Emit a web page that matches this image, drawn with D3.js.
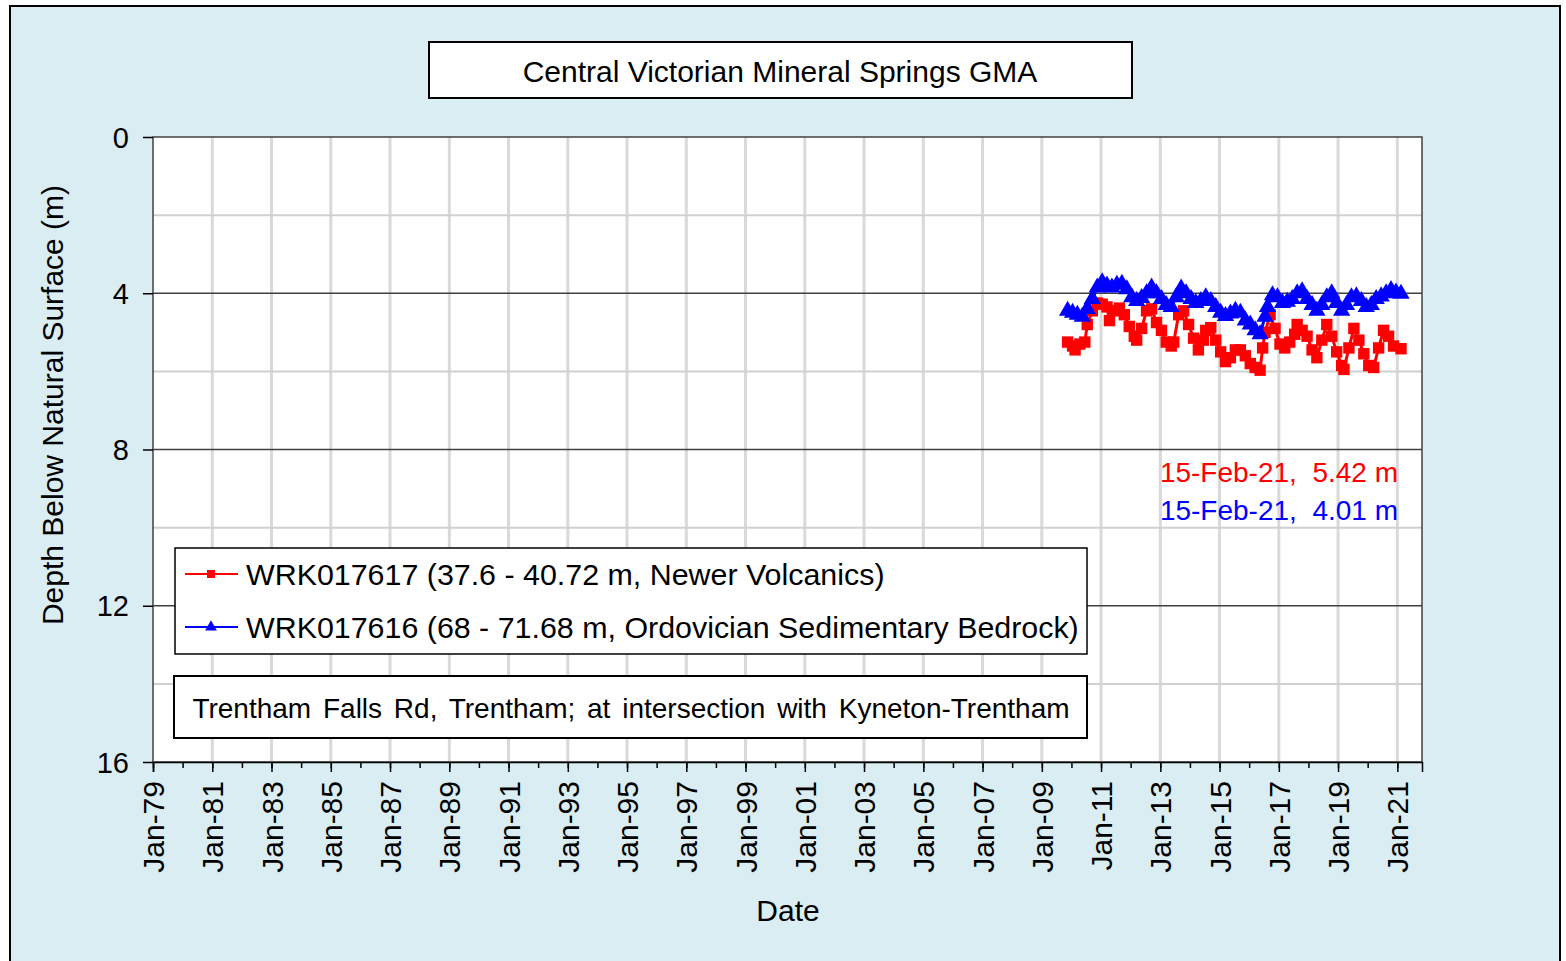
<!DOCTYPE html>
<html>
<head>
<meta charset="utf-8">
<script src="https://cdn.jsdelivr.net/npm/d3@7"></script>
<style>
  body { margin: 0; background: #ffffff; }
  text { font-family: "Liberation Sans", Arial, sans-serif; fill: #000; }
</style>
</head>
<body>
<script>
// bore WRK017617 (red, squares)
var redDates = ["2009-11-15","2010-01-15","2010-02-15","2010-04-15","2010-06-15","2010-07-15","2010-09-15","2010-11-15",
  "2011-01-15","2011-03-15","2011-04-15","2011-06-15","2011-08-15","2011-10-15","2011-12-15",
  "2012-02-15","2012-03-15","2012-05-15","2012-07-15","2012-09-15","2012-11-15",
  "2013-01-15","2013-03-15","2013-05-15","2013-06-15","2013-08-15","2013-10-15","2013-12-15",
  "2014-02-15","2014-04-15","2014-06-15","2014-07-15","2014-09-15","2014-11-15",
  "2015-01-15","2015-03-15","2015-05-15","2015-07-15","2015-09-15","2015-11-15",
  "2016-01-15","2016-03-15","2016-05-15","2016-06-15","2016-07-15","2016-09-15","2016-11-15",
  "2017-01-15","2017-03-15","2017-05-15","2017-07-15","2017-08-15","2017-10-15","2017-12-15",
  "2018-02-15","2018-04-15","2018-06-15","2018-08-15","2018-10-15","2018-12-15",
  "2019-02-15","2019-03-15","2019-05-15","2019-07-15","2019-09-15","2019-11-15",
  "2020-01-15","2020-03-15","2020-05-15","2020-07-15","2020-09-15","2020-11-15","2021-02-15"];
var redDepth = [5.25,5.35,5.45,5.30,5.25,4.80,4.45,4.25,
  4.28,4.35,4.70,4.45,4.38,4.55,4.85,
  5.10,5.20,4.90,4.45,4.40,4.75,
  4.95,5.25,5.35,5.25,4.55,4.45,4.80,
  5.15,5.45,5.20,4.95,4.88,5.20,
  5.50,5.75,5.65,5.45,5.45,5.60,
  5.80,5.90,5.97,5.40,5.00,4.55,4.90,
  5.30,5.40,5.25,5.05,4.80,4.95,5.10,
  5.45,5.65,5.20,4.80,5.10,5.50,
  5.85,5.95,5.40,4.90,5.20,5.55,
  5.85,5.90,5.40,4.95,5.10,5.35,5.42];

// bore WRK017616 (blue, triangles)
var blueDates = ["2009-11-15","2010-01-15","2010-03-15","2010-05-15","2010-07-15","2010-09-15","2010-11-15",
  "2011-01-15","2011-03-15","2011-05-15","2011-07-15","2011-09-15","2011-11-15",
  "2012-01-15","2012-03-15","2012-05-15","2012-07-15","2012-09-15","2012-11-15",
  "2013-01-15","2013-03-15","2013-05-15","2013-07-15","2013-09-15","2013-11-15",
  "2014-01-15","2014-03-15","2014-05-15","2014-07-15","2014-09-15","2014-11-15",
  "2015-01-15","2015-03-15","2015-05-15","2015-07-15","2015-09-15","2015-11-15",
  "2016-01-15","2016-03-15","2016-05-15","2016-07-15","2016-08-15","2016-10-15","2016-12-15",
  "2017-02-15","2017-04-15","2017-06-15","2017-08-15","2017-10-15","2017-12-15",
  "2018-02-15","2018-04-15","2018-06-15","2018-08-15","2018-10-15","2018-12-15",
  "2019-02-15","2019-04-15","2019-06-15","2019-08-15","2019-10-15","2019-12-15",
  "2020-02-15","2020-04-15","2020-06-15","2020-08-15","2020-10-15","2020-12-15","2021-02-15"];
var blueDepth = [4.45,4.50,4.55,4.60,4.40,4.15,3.85,
  3.72,3.80,3.85,3.78,3.76,3.90,
  4.10,4.20,4.12,4.00,3.85,4.00,
  4.15,4.30,4.35,4.10,3.88,4.00,
  4.15,4.25,4.20,4.10,4.20,4.35,
  4.50,4.58,4.52,4.45,4.50,4.70,
  4.80,4.95,5.05,4.60,4.35,4.05,4.10,
  4.25,4.22,4.15,4.00,3.95,4.15,
  4.30,4.45,4.30,4.10,4.00,4.25,
  4.45,4.30,4.10,4.08,4.20,4.35,
  4.30,4.15,4.08,4.00,3.92,3.98,4.01];

var seriesNames = ["WRK017617 (37.6 - 40.72 m, Newer Volcanics)",
                   "WRK017616 (68 - 71.68 m, Ordovician Sedimentary Bedrock)"];
var seriesColors = ["#ff0000", "#0000ff"];
var lastLabels = ["15-Feb-21,  5.42 m", "15-Feb-21,  4.01 m"];
var yTicks = [0, 4, 8, 12, 16];
var chartTitle = "Central Victorian Mineral Springs GMA";
var siteText = "Trentham Falls Rd, Trentham; at intersection with Kyneton-Trentham";

var W = 1566, H = 961;
var margin = {top: 137, left: 153};
var width = 1422 - 153, height = 762 - 137;

var parseDate = d3.timeParse("%Y-%m-%d");
var red = redDates.map(function(d, i) { return {date: parseDate(d), v: redDepth[i]}; });
var blue = blueDates.map(function(d, i) { return {date: parseDate(d), v: blueDepth[i]}; });

var svg = d3.select("body").append("svg")
  .attr("width", W).attr("height", H);

// background + outer frame
svg.append("rect").attr("x", 0).attr("y", 0).attr("width", W).attr("height", H).attr("fill", "#ffffff");
svg.append("rect").attr("x", 10).attr("y", 6).attr("width", 1550).attr("height", H + 10)
  .attr("fill", "#daedf3").attr("stroke", "#000").attr("stroke-width", 2);

// title box
svg.append("rect").attr("x", 429).attr("y", 42).attr("width", 703).attr("height", 56)
  .attr("fill", "#fff").attr("stroke", "#000").attr("stroke-width", 2);
svg.append("text").attr("x", 780).attr("y", 82).attr("text-anchor", "middle")
  .style("font-size", "30px").text(chartTitle);

var x = d3.scaleTime()
  .domain([new Date(1979, 0, 1), new Date(2021, 10, 1)])
  .range([0, width]);
var y = d3.scaleLinear().domain([0, 16]).range([0, height]);

var g = svg.append("g").attr("transform", "translate(" + margin.left + "," + margin.top + ")");

g.append("rect").attr("width", width).attr("height", height).attr("fill", "#fff");

// vertical grid every 2 years (odd years, Jan-79 .. Jan-21)
var majorYears = d3.timeYear.range(new Date(1979, 0, 1), new Date(2021, 1, 1), 2);
g.append("g").selectAll("line").data(majorYears.slice(1)).enter().append("line")
  .attr("x1", function(d) { return x(d); }).attr("x2", function(d) { return x(d); })
  .attr("y1", 0).attr("y2", height)
  .attr("stroke", "#d9d9d9").attr("stroke-width", 3);

// horizontal grid
g.append("g").selectAll("line").data([2, 6, 10, 14]).enter().append("line")
  .attr("x1", 0).attr("x2", width)
  .attr("y1", function(d) { return y(d); }).attr("y2", function(d) { return y(d); })
  .attr("stroke", "#d0d0d0").attr("stroke-width", 2);
g.append("g").selectAll("line").data([4, 8, 12]).enter().append("line")
  .attr("x1", 0).attr("x2", width)
  .attr("y1", function(d) { return y(d); }).attr("y2", function(d) { return y(d); })
  .attr("stroke", "#404040").attr("stroke-width", 1.5);

g.append("rect").attr("width", width).attr("height", height)
  .attr("fill", "none").attr("stroke", "#404040").attr("stroke-width", 1.5);

// y axis
var yAxis = g.append("g")
  .call(d3.axisLeft(y).tickValues(yTicks).tickSize(10).tickPadding(14).tickFormat(d3.format("d")));
yAxis.select(".domain").remove();
yAxis.selectAll(".tick line").attr("stroke", "#000").attr("stroke-width", 1.5);
yAxis.selectAll("text").style("font-size", "29px").attr("fill", "#000").attr("dy", "0.35em");

// x axis: minor ticks every year, major every 2
var xMinor = g.append("g").attr("transform", "translate(0," + height + ")")
  .call(d3.axisBottom(x).ticks(d3.timeYear.every(1)).tickSize(6).tickFormat(""));
xMinor.select(".domain").remove();
xMinor.selectAll(".tick line").attr("stroke", "#000").attr("stroke-width", 1.5);

var xAxis = g.append("g").attr("transform", "translate(0," + height + ")")
  .call(d3.axisBottom(x).tickValues(majorYears).tickSize(10).tickFormat(d3.timeFormat("%b-%y")));
xAxis.select(".domain").attr("stroke", "#000").attr("stroke-width", 1.5);
xAxis.selectAll(".tick line").attr("stroke", "#000").attr("stroke-width", 1.5);
xAxis.selectAll("text")
  .style("font-size", "30px").attr("fill", "#000")
  .attr("text-anchor", "end")
  .attr("transform", "rotate(-90)")
  .attr("x", -19).attr("y", 0).attr("dy", "0.35em");

// axis titles
svg.append("text").attr("transform", "translate(63,405) rotate(-90)")
  .attr("text-anchor", "middle").style("font-size", "30px").text("Depth Below Natural Surface (m)");
svg.append("text").attr("x", 788).attr("y", 921).attr("text-anchor", "middle")
  .style("font-size", "30px").text("Date");

// series
var line = d3.line().x(function(d) { return x(d.date); }).y(function(d) { return y(d.v); });
var sq = d3.symbol().type(d3.symbolSquare).size(130);
var tri = d3.symbol().type(d3.symbolTriangle).size(130);

g.append("path").datum(red).attr("d", line)
  .attr("fill", "none").attr("stroke", seriesColors[0]).attr("stroke-width", 3);
g.append("g").selectAll("path").data(red).enter().append("path")
  .attr("d", sq).attr("fill", seriesColors[0])
  .attr("transform", function(d) { return "translate(" + x(d.date) + "," + y(d.v) + ")"; });

g.append("path").datum(blue).attr("d", line)
  .attr("fill", "none").attr("stroke", seriesColors[1]).attr("stroke-width", 3);
g.append("g").selectAll("path").data(blue).enter().append("path")
  .attr("d", tri).attr("fill", seriesColors[1])
  .attr("transform", function(d) { return "translate(" + x(d.date) + "," + y(d.v) + ")"; });

// last-value annotations
svg.append("text").attr("x", 1398).attr("y", 482).attr("text-anchor", "end")
  .style("font-size", "28px").style("fill", seriesColors[0])
  .style("white-space", "pre").text(lastLabels[0]);
svg.append("text").attr("x", 1398).attr("y", 520).attr("text-anchor", "end")
  .style("font-size", "28px").style("fill", seriesColors[1])
  .style("white-space", "pre").text(lastLabels[1]);

// legend
svg.append("rect").attr("x", 175).attr("y", 548).attr("width", 912).attr("height", 106)
  .attr("fill", "#fff").attr("stroke", "#000").attr("stroke-width", 1.5);
var legY = [574, 627];
var syms = [d3.symbol().type(d3.symbolSquare).size(64), d3.symbol().type(d3.symbolTriangle).size(60)];
seriesNames.forEach(function(name, i) {
  svg.append("line").attr("x1", 185).attr("x2", 238).attr("y1", legY[i]).attr("y2", legY[i])
    .attr("stroke", seriesColors[i]).attr("stroke-width", 2);
  svg.append("path").attr("d", syms[i]).attr("fill", seriesColors[i])
    .attr("transform", "translate(211," + legY[i] + ")");
  svg.append("text").attr("x", 246).attr("y", legY[i] + 11).style("font-size", "30.4px").text(name);
});

// site box
svg.append("rect").attr("x", 174).attr("y", 676).attr("width", 913).attr("height", 62)
  .attr("fill", "#fff").attr("stroke", "#000").attr("stroke-width", 2);
svg.append("text").attr("x", 631).attr("y", 718).attr("text-anchor", "middle")
  .style("font-size", "28px").style("word-spacing", "4px").text(siteText);
</script>
</body>
</html>
